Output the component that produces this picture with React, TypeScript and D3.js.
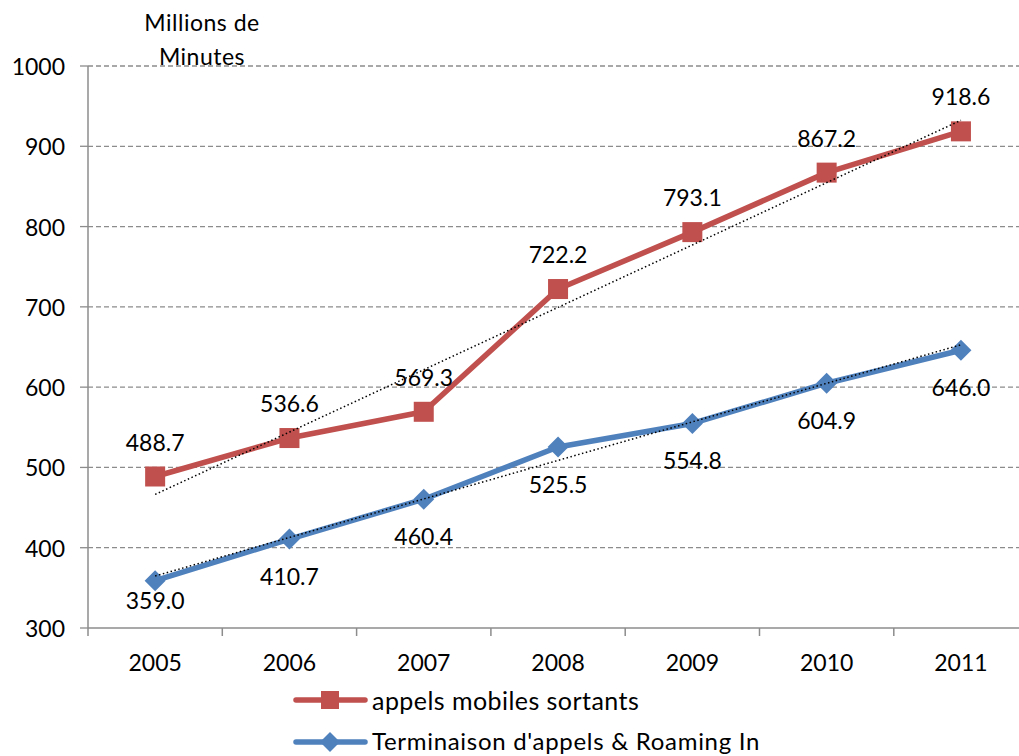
import React from "react";
import * as d3 from "d3";

const years = ["2005", "2006", "2007", "2008", "2009", "2010", "2011"];
const appelsSortants = [488.7, 536.6, 569.3, 722.2, 793.1, 867.2, 918.6];
const terminaison = [359.0, 410.7, 460.4, 525.5, 554.8, 604.9, 646.0];
const yTicks = [300, 400, 500, 600, 700, 800, 900, 1000];
const seriesNames = ["appels mobiles sortants", "Terminaison d'appels & Roaming In"];

const W = 1019;
const H = 756;
const FONT = "Lato, 'Open Sans', sans-serif";
const FS = 23;

function regression(vals: number[]) {
  const n = vals.length;
  const mx = (n - 1) / 2;
  const my = d3.mean(vals) as number;
  let num = 0;
  let den = 0;
  vals.forEach((v, i) => {
    num += (i - mx) * (v - my);
    den += (i - mx) * (i - mx);
  });
  const slope = num / den;
  return (i: number) => my + slope * (i - mx);
}

export default function App() {
  const left = 88;
  const band = 134.3;
  const x = d3.scaleBand<string>().domain(years).range([left, left + band * years.length]);
  const y = d3.scaleLinear().domain([300, 1000]).range([628, 66]);
  const cx = (i: number) => (x(years[i]) as number) + x.bandwidth() / 2;

  const line = d3.line<number>().x((_, i) => cx(i)).y((v) => y(v));
  const red = "#C0504D";
  const blue = "#4F81BD";
  const grid = "#8c8c8c";

  const regR = regression(appelsSortants);
  const regB = regression(terminaison);
  const last = years.length - 1;

  const diamond = (px: number, py: number, r: number) =>
    `M${px},${py - r}L${px + r},${py}L${px},${py + r}L${px - r},${py}Z`;

  return (
    <svg width={W} height={H} style={{ position: "absolute", left: 0, top: 0, background: "#fff" }} fontFamily={FONT}>
      {/* gridlines */}
      {yTicks.map((t) => (
        <g key={t}>
          {t !== 300 && (
            <line x1={left} x2={W} y1={y(t)} y2={y(t)} stroke={grid} strokeWidth={1.3} strokeDasharray="5,3" />
          )}
          <line x1={left - 8} x2={left} y1={y(t)} y2={y(t)} stroke={grid} strokeWidth={1.3} />
          <text x={65} y={y(t)} textAnchor="end" dominantBaseline="central" fontSize={FS} fill="#000">
            {t}
          </text>
        </g>
      ))}
      {/* axes */}
      <line x1={left} x2={left} y1={y(1000)} y2={y(300)} stroke={grid} strokeWidth={1.5} />
      <line x1={left} x2={W} y1={y(300)} y2={y(300)} stroke={grid} strokeWidth={1.5} />
      {years.map((yr, i) => (
        <g key={yr}>
          <line x1={x(yr) as number} x2={x(yr) as number} y1={y(300)} y2={y(300) + 8} stroke={grid} strokeWidth={1.5} />
          <text x={cx(i)} y={662} textAnchor="middle" dominantBaseline="central" fontSize={FS} fill="#000">
            {yr}
          </text>
        </g>
      ))}
      {/* title */}
      <text x={202} y={22} textAnchor="middle" dominantBaseline="central" fontSize={FS} letterSpacing={0.5} fill="#000">
        Millions de
      </text>
      <text x={202} y={56} textAnchor="middle" dominantBaseline="central" fontSize={FS} letterSpacing={0.5} fill="#000">
        Minutes
      </text>

      {/* series lines */}
      <path d={line(appelsSortants) as string} fill="none" stroke={red} strokeWidth={5.5} strokeLinejoin="round" />
      <path d={line(terminaison) as string} fill="none" stroke={blue} strokeWidth={5.5} strokeLinejoin="round" />

      {/* markers */}
      {appelsSortants.map((v, i) => (
        <rect key={"r" + i} x={cx(i) - 10} y={y(v) - 10} width={20} height={20} fill={red} />
      ))}
      {terminaison.map((v, i) => (
        <path key={"b" + i} d={diamond(cx(i), y(v), 10.5)} fill={blue} />
      ))}

      {/* trendlines */}
      <line x1={cx(0)} y1={y(regR(0))} x2={cx(last)} y2={y(regR(last))} stroke="#000" strokeWidth={1.5} strokeDasharray="1.5,2.5" />
      <line x1={cx(0)} y1={y(regB(0))} x2={cx(last)} y2={y(regB(last))} stroke="#000" strokeWidth={1.5} strokeDasharray="1.5,2.5" />

      {/* labels */}
      {appelsSortants.map((v, i) => (
        <text key={"lr" + i} x={cx(i)} y={y(v) - 35} textAnchor="middle" dominantBaseline="central" fontSize={FS} fill="#000">
          {v.toFixed(1)}
        </text>
      ))}
      {terminaison.map((v, i) => (
        <text key={"lb" + i} x={cx(i)} y={Math.min(y(v) + 37, 600)} textAnchor="middle" dominantBaseline="central" fontSize={FS} fill="#000">
          {v.toFixed(1)}
        </text>
      ))}

      {/* legend */}
      <line x1={296} x2={365} y1={700} y2={700} stroke={red} strokeWidth={5.5} strokeLinecap="round" />
      <rect x={321} y={691} width={18} height={18} fill={red} />
      <text x={372} y={700} dominantBaseline="central" fontSize={25} letterSpacing={0.45} fill="#000">
        {seriesNames[0]}
      </text>
      <line x1={296} x2={365} y1={742} y2={742} stroke={blue} strokeWidth={5.5} strokeLinecap="round" />
      <path d={diamond(330, 742, 10)} fill={blue} />
      <text x={372} y={740} dominantBaseline="central" fontSize={24} letterSpacing={0.7} fill="#000">
        {seriesNames[1]}
      </text>
    </svg>
  );
}
